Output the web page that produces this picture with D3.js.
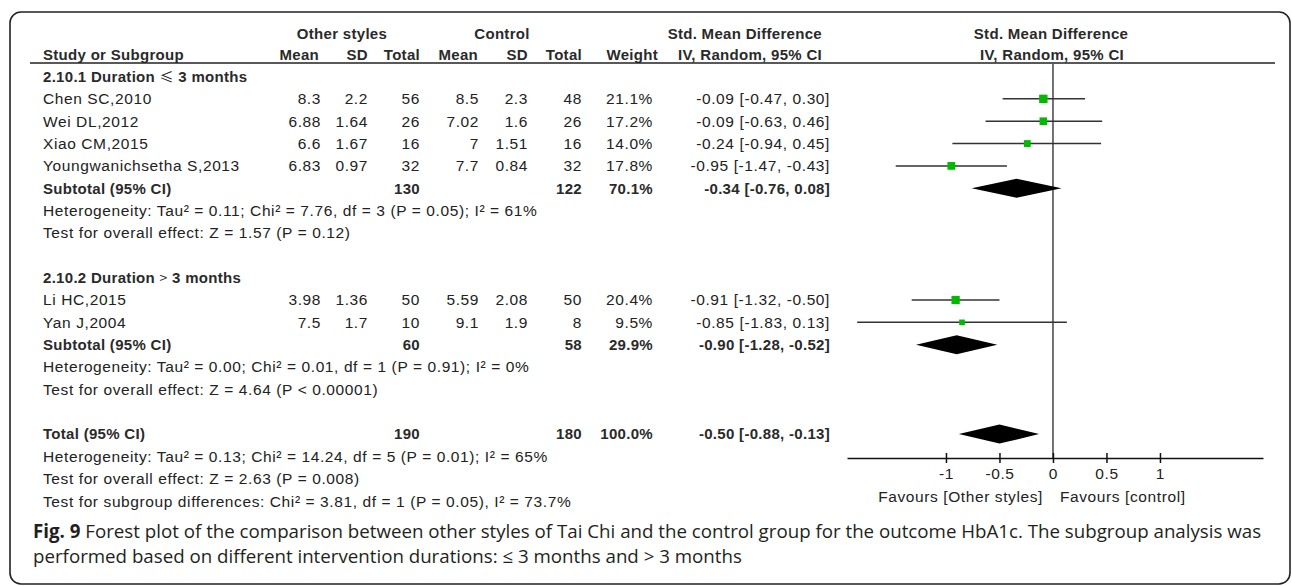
<!DOCTYPE html>
<html>
<head>
<meta charset="utf-8">
<script src="https://cdn.jsdelivr.net/npm/d3@7"></script>
<style>
  html, body { margin: 0; padding: 0; background: #fff; }
  svg { display: block; }
</style>
</head>
<body>
<svg id="chart" width="1292" height="586"></svg>
<script>
// ---- data ----
const subgroupLabels = ["2.10.1 Duration ", "2.10.2 Duration "];
const subgroupSymbols = ["≤", ">"];
const subgroupTails = [" 3 months", " 3 months"];

const studyNames = ["Chen SC,2010", "Wei DL,2012", "Xiao CM,2015", "Youngwanichsetha S,2013", "Li HC,2015", "Yan J,2004"];
const studyGroup = [0, 0, 0, 0, 1, 1];
const expMean = ["8.3", "6.88", "6.6", "6.83", "3.98", "7.5"];
const expSD = ["2.2", "1.64", "1.67", "0.97", "1.36", "1.7"];
const expN = [56, 26, 16, 32, 50, 10];
const ctlMean = ["8.5", "7.02", "7", "7.7", "5.59", "9.1"];
const ctlSD = ["2.3", "1.6", "1.51", "0.84", "2.08", "1.9"];
const ctlN = [48, 26, 16, 32, 50, 8];
const weights = [21.1, 17.2, 14.0, 17.8, 20.4, 9.5];
const smd = [-0.09, -0.09, -0.24, -0.95, -0.91, -0.85];
const ciLow = [-0.47, -0.63, -0.94, -1.47, -1.32, -1.83];
const ciHigh = [0.30, 0.46, 0.45, -0.43, -0.50, 0.13];

const subExpN = [130, 60];
const subCtlN = [122, 58];
const subWeight = [70.1, 29.9];
const subSmd = [-0.34, -0.90];
const subLow = [-0.76, -1.28];
const subHigh = [0.08, -0.52];
const subHet = [
  "Heterogeneity: Tau² = 0.11; Chi² = 7.76, df = 3 (P = 0.05); I² = 61%",
  "Heterogeneity: Tau² = 0.00; Chi² = 0.01, df = 1 (P = 0.91); I² = 0%"
];
const subTest = [
  "Test for overall effect: Z = 1.57 (P = 0.12)",
  "Test for overall effect: Z = 4.64 (P < 0.00001)"
];

const totalExpN = 190;
const totalCtlN = 180;
const totalWeight = 100.0;
const totalSmd = -0.50;
const totalLow = -0.88;
const totalHigh = -0.13;
const totalHet = "Heterogeneity: Tau² = 0.13; Chi² = 14.24, df = 5 (P = 0.01); I² = 65%";
const totalTest = "Test for overall effect: Z = 2.63 (P = 0.008)";
const subgroupDiffTest = "Test for subgroup differences: Chi² = 3.81, df = 1 (P = 0.05), I² = 73.7%";

const axisTicks = [-1, -0.5, 0, 0.5, 1];
const favourLeft = "Favours [Other styles]";
const favourRight = "Favours [control]";

const captionBold = "Fig. 9";
const captionLine1 = " Forest plot of the comparison between other styles of Tai Chi and the control group for the outcome HbA1c. The subgroup analysis was";
const captionLine2 = "performed based on different intervention durations: ≤ 3 months and > 3 months";

// ---- layout ----
const svg = d3.select("#chart");
const FONT = "'Liberation Sans', Arial, sans-serif";
const TEXT = "#222";

const col = { name: 43, eMean: 321, eSD: 368, eN: 420, cMean: 479, cSD: 528, cN: 582, weight: 653, ci: 830 };
const rowY = d3.scaleLinear().domain([0, 1]).range([76.5, 76.5 + 22.35]);
const x = d3.scaleLinear().domain([-1.925, 1.963]).range([847, 1263]);
const boxSize = d3.scaleSqrt().domain([0, 21.1]).range([0, 8.4]);
const axisY = 458;
const headerLineY = 63;

// outer frame
svg.append("rect")
  .attr("x", 10).attr("y", 12).attr("width", 1280).attr("height", 572)
  .attr("rx", 11).attr("ry", 11)
  .attr("fill", "none").attr("stroke", "#222").attr("stroke-width", 1.6);

function txt(xp, yp, s, anchor, bold) {
  return svg.append("text")
    .attr("x", xp).attr("y", yp).attr("dy", "0.35em")
    .attr("text-anchor", anchor || "start")
    .attr("font-family", FONT)
    .attr("font-size", bold ? 15 : 15.5)
    .attr("font-weight", bold ? "bold" : "normal")
    .attr("letter-spacing", bold ? 0.3 : 0.6)
    .attr("fill", bold ? "#2a2a2a" : TEXT)
    .text(s);
}

const fmt2 = v => v.toFixed(2);
const ciText = (e, lo, hi) => `${fmt2(e)} [${fmt2(lo)}, ${fmt2(hi)}]`;
const pct = v => v.toFixed(1) + "%";

// ---- header ----
txt(342, 34, "Other styles", "middle", true);
txt(502, 34, "Control", "middle", true);
txt(822, 34, "Std. Mean Difference", "end", true);
txt(1051, 34, "Std. Mean Difference", "middle", true);

txt(col.name, 55, "Study or Subgroup", "start", true);
txt(col.eMean - 2, 55, "Mean", "end", true);
txt(col.eSD, 55, "SD", "end", true);
txt(col.eN, 55, "Total", "end", true);
txt(col.cMean - 1, 55, "Mean", "end", true);
txt(col.cSD, 55, "SD", "end", true);
txt(col.cN, 55, "Total", "end", true);
txt(col.weight + 5, 55, "Weight", "end", true);
txt(822, 55, "IV, Random, 95% CI", "end", true);
txt(1052, 55, "IV, Random, 95% CI", "middle", true);

svg.append("line")
  .attr("x1", 30).attr("x2", 1275)
  .attr("y1", headerLineY).attr("y2", headerLineY)
  .attr("stroke", "#222").attr("stroke-width", 1.5);

// zero line
svg.append("line")
  .attr("x1", x(0)).attr("x2", x(0))
  .attr("y1", headerLineY).attr("y2", axisY)
  .attr("stroke", "#5a5a5a").attr("stroke-width", 1.7);

// ---- rows ----
function diamond(yc, est, lo, hi) {
  const h = 9.5;
  const pts = [[x(lo), yc], [x(est), yc - h], [x(hi), yc], [x(est), yc + h]];
  svg.append("path")
    .attr("d", d3.line()(pts) + "Z")
    .attr("fill", "#000");
}

let r = 0;
[0, 1].forEach(g => {
  // subgroup heading
  const head = txt(col.name, rowY(r), subgroupLabels[g], "start", true);
  head.append("tspan")
    .attr("font-family", "'Noto Sans CJK SC', 'DejaVu Sans', sans-serif")
    .attr("font-weight", "normal")
    .attr("font-size", 14)
    .text(subgroupSymbols[g]);
  head.append("tspan").text(subgroupTails[g]);
  r++;

  studyNames.forEach((name, i) => {
    if (studyGroup[i] !== g) return;
    const y = rowY(r);
    txt(col.name, y, name);
    txt(col.eMean, y, expMean[i], "end");
    txt(col.eSD, y, expSD[i], "end");
    txt(col.eN, y, String(expN[i]), "end");
    txt(col.cMean, y, ctlMean[i], "end");
    txt(col.cSD, y, ctlSD[i], "end");
    txt(col.cN, y, String(ctlN[i]), "end");
    txt(col.weight, y, pct(weights[i]), "end");
    txt(col.ci, y, ciText(smd[i], ciLow[i], ciHigh[i]), "end");

    svg.append("line")
      .attr("x1", x(ciLow[i])).attr("x2", x(ciHigh[i]))
      .attr("y1", y).attr("y2", y)
      .attr("stroke", "#333").attr("stroke-width", 1.5);
    const s = boxSize(weights[i]);
    svg.append("rect")
      .attr("x", x(smd[i]) - s / 2).attr("y", y - s / 2)
      .attr("width", s).attr("height", s)
      .attr("fill", "#00b900");
    r++;
  });

  const ys = rowY(r);
  txt(col.name, ys, "Subtotal (95% CI)", "start", true);
  txt(col.eN, ys, String(subExpN[g]), "end", true);
  txt(col.cN, ys, String(subCtlN[g]), "end", true);
  txt(col.weight, ys, pct(subWeight[g]), "end", true);
  txt(col.ci, ys, ciText(subSmd[g], subLow[g], subHigh[g]), "end", true);
  diamond(ys, subSmd[g], subLow[g], subHigh[g]);
  r++;
  txt(col.name, rowY(r), subHet[g]); r++;
  txt(col.name, rowY(r), subTest[g]); r++;
  r++; // blank spacer row
});

const yt = rowY(r);
txt(col.name, yt, "Total (95% CI)", "start", true);
txt(col.eN, yt, String(totalExpN), "end", true);
txt(col.cN, yt, String(totalCtlN), "end", true);
txt(col.weight, yt, pct(totalWeight), "end", true);
txt(col.ci, yt, ciText(totalSmd, totalLow, totalHigh), "end", true);
diamond(yt, totalSmd, totalLow, totalHigh);
r++;
txt(col.name, rowY(r), totalHet); r++;
txt(col.name, rowY(r), totalTest); r++;
txt(col.name, rowY(r), subgroupDiffTest); r++;

// ---- axis ----
const axis = d3.axisBottom(x)
  .tickValues(axisTicks)
  .tickFormat(d => String(d))
  .tickSizeOuter(0)
  .tickSizeInner(5);
const ag = svg.append("g").attr("transform", `translate(0,${axisY})`).call(axis);
ag.select(".domain").attr("stroke", "#111").attr("stroke-width", 1.5);
ag.selectAll(".tick line").attr("y1", -5).attr("y2", 5).attr("stroke", "#111").attr("stroke-width", 1.5);
ag.selectAll(".tick text")
  .attr("y", 10)
  .attr("font-family", FONT).attr("font-size", 15.5)
  .attr("letter-spacing", 0.6)
  .attr("fill", TEXT);

txt(x(0) - 10, 497, favourLeft, "end");
txt(x(0) + 7, 497, favourRight, "start");

// ---- caption ----
const capFont = "'Open Sans', 'Noto Sans', sans-serif";
const cap1 = svg.append("text")
  .attr("x", 33).attr("y", 531).attr("dy", "0.35em")
  .attr("font-family", capFont).attr("font-size", 17).attr("fill", "#231f20");
cap1.append("tspan").attr("font-weight", "bold").text(captionBold);
cap1.append("tspan").text(captionLine1);
const cap2 = svg.append("text")
  .attr("x", 33).attr("y", 556).attr("dy", "0.35em")
  .attr("font-family", capFont).attr("font-size", 17).attr("fill", "#231f20")
  .text(captionLine2);

// size the caption so the first line spans the frame's text width
const targetWidth = 1262 - 33;
const w1 = cap1.node().getComputedTextLength();
const capSize = 17 * targetWidth / w1;
cap1.attr("font-size", capSize);
cap2.attr("font-size", capSize);
</script>
</body>
</html>
